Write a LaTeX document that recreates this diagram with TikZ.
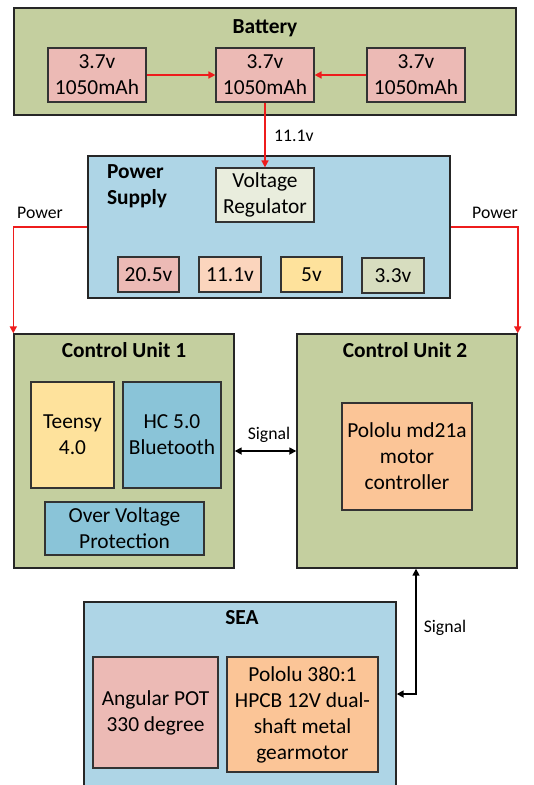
\documentclass[tikz,border=0pt]{standalone}
\usepackage{fontspec}
\setmainfont{Carlito}
\usetikzlibrary{arrows.meta}
\definecolor{olivebg}{HTML}{C4CF9F}
\definecolor{bluebg}{HTML}{AED5E6}
\definecolor{pinkbox}{HTML}{ECBAB5}
\definecolor{paleg}{HTML}{E9EDDD}
\definecolor{peach}{HTML}{FBD5BD}
\definecolor{yellowbox}{HTML}{FEE29C}
\definecolor{grayg}{HTML}{D7DDBF}
\definecolor{bluebox}{HTML}{8AC4D8}
\definecolor{orangebox}{HTML}{FBC597}
\definecolor{redline}{HTML}{EE1C1C}
\begin{document}
\begin{tikzpicture}[x=1pt,y=-1pt,
  container/.style={draw=black!85,line width=1.4pt,inner sep=0pt},
  inbox/.style={draw=black!80,line width=1.2pt,inner sep=0pt,align=center,
    font=\fontsize{21.4}{26}\selectfont},
  ttl/.style={font=\fontsize{21.4}{26.5}\selectfont\bfseries,align=center,inner sep=0pt},
  lbl/.style={font=\fontsize{17.7}{21}\selectfont,inner sep=0pt},
  pwr/.style={draw=redline,line width=1.6pt,-{Triangle[length=7pt,width=7pt]}},
  sig/.style={draw=black,line width=1.6pt,{Triangle[length=7pt,width=7pt]}-{Triangle[length=7pt,width=7pt]}}]
\clip (0,0) rectangle (534,785);
\useasboundingbox (0,0) rectangle (534,785);
\fill[white] (0,0) rectangle (534,785);

% Battery
\node[container,fill=olivebg,minimum width=502pt,minimum height=107pt] (bat) at (265,61.5) {};
\node[ttl] (battitle) at (265,28) {Battery};
\node[inbox,fill=pinkbox,minimum width=98pt,minimum height=54pt] (c1) at (97,75) {3.7v\\1050mAh};
\node[inbox,fill=pinkbox,minimum width=98pt,minimum height=54pt] (c2) at (265,75) {3.7v\\1050mAh};
\node[inbox,fill=pinkbox,minimum width=98pt,minimum height=54pt] (c3) at (416,75) {3.7v\\1050mAh};

% Power supply
\node[container,fill=bluebg,minimum width=362pt,minimum height=142pt] (ps) at (269,227) {};
\node[ttl,align=left] (pstitle) at (137,186) {Power\\Supply};
\node[inbox,fill=paleg,minimum width=98pt,minimum height=54pt] (vreg) at (265,195) {Voltage\\Regulator};
\node[inbox,fill=pinkbox,minimum width=61pt,minimum height=35pt] (v205) at (148.5,274.5) {20.5v};
\node[inbox,fill=peach,minimum width=62pt,minimum height=35pt] (v111) at (230,274.5) {11.1v};
\node[inbox,fill=yellowbox,minimum width=61pt,minimum height=35pt] (v5) at (311.5,274.5) {5v};
\node[inbox,fill=grayg,minimum width=62pt,minimum height=35pt] (v33) at (393,275.5) {3.3v};

% Control unit 1
\node[container,fill=olivebg,minimum width=220pt,minimum height=234pt] (cu1) at (124,451) {};
\node[ttl] (cu1title) at (124,350) {Control Unit 1};
\node[inbox,fill=yellowbox,minimum width=83pt,minimum height=106pt] (teensy) at (72.5,435) {Teensy\\4.0};
\node[inbox,fill=bluebox,minimum width=98pt,minimum height=106pt] (hc) at (172,435) {HC 5.0\\Bluetooth};
\node[inbox,fill=bluebox,minimum width=159pt,minimum height=53pt] (ovp) at (124.5,528.5) {Over Voltage\\Protection};

% Control unit 2
\node[container,fill=olivebg,minimum width=220pt,minimum height=234pt] (cu2) at (407,451) {};
\node[ttl] (cu2title) at (405,350) {Control Unit 2};
\node[inbox,fill=orangebox,minimum width=130pt,minimum height=107pt] (md) at (407,456.5) {Pololu md21a\\motor\\controller};

% SEA
\node[container,fill=bluebg,minimum width=312pt,minimum height=198pt] (sea) at (240,701) {};
\node[ttl] (seatitle) at (242,618) {SEA};
\node[inbox,fill=pinkbox,minimum width=125pt,minimum height=111pt] (pot) at (155.5,712.5) {Angular POT\\330 degree};
\node[inbox,fill=orangebox,minimum width=151pt,minimum height=115pt] (motor) at (302.5,714.5) {Pololu 380:1\\HPCB 12V dual-\\shaft metal\\gearmotor};

% Battery connections
\draw[pwr] (c1.east) -- (c2.west);
\draw[pwr] (c3.west) -- (c2.east);
\draw[pwr] (c2.south) -- (vreg.north);
\node[lbl,anchor=west] (l111) at (274,136) {11.1v};

% Power lines
\draw[pwr] (ps.west) -| (cu1.north west);
\draw[pwr] (ps.east) -| (cu2.north east);
\node[lbl] (lp1) at (40,213) {Power};
\node[lbl] (lp2) at (495,213) {Power};

% Signals
\draw[sig] (cu1.east) -- (cu2.west);
\node[lbl] (ls1) at (269,435) {Signal};
\coordinate (bend) at (416,694);
\draw[sig] (cu2.south -| bend) -- (bend) -- (bend -| sea.east);
\node[lbl] (ls2) at (445,628) {Signal};
\end{tikzpicture}
\end{document}
